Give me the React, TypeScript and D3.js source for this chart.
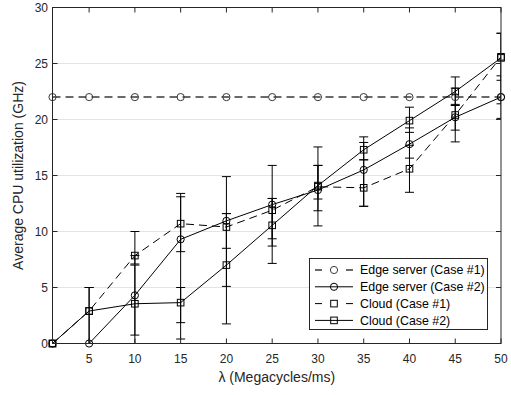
import { useEffect, useRef } from 'react';
import * as d3 from 'd3';

// lambda values (Megacycles/ms)
const lambda = [1, 5, 10, 15, 20, 25, 30, 35, 40, 45, 50];

// average CPU utilization (GHz)
const edgeCase1 = [22, 22, 22, 22, 22, 22, 22, 22, 22, 22, 22];
const edgeCase2 = [0, 0, 4.3, 9.3, 10.95, 12.4, 13.7, 15.5, 17.8, 20.2, 22.0];
const cloudCase1 = [0, 2.9, 7.85, 10.7, 10.4, 11.9, 14.0, 13.9, 15.6, 20.4, 25.6];
const cloudCase2 = [0, 2.9, 3.55, 3.65, 7.0, 10.55, 14.1, 17.3, 19.9, 22.5, 25.5];

// error bar ends (low / high)
const edgeCase2Lo = [0, 0, 0.75, 0.4, 5.1, 8.7, 11.85, 12.25, 16.55, 19.05, 20.1];
const edgeCase2Hi = [0, 0, 7.85, 13.4, 14.9, 15.9, 15.9, 18.45, 19.25, 21.35, 23.9];
const cloudCase1Lo = [0, 0, 7.1, 8.2, 8.5, 9.35, 12.9, 12.25, 13.5, 18.0, 23.5];
const cloudCase1Hi = [0, 5.0, 10.0, 13.1, 11.6, 12.95, 15.9, 16.4, 17.7, 22.8, 27.7];
const cloudCase2Lo = [0, 0, 0, 1.86, 1.75, 7.15, 10.5, 16.4, 18.85, 21.25, 21.4];
const cloudCase2Hi = [0, 5.0, 7.0, 5.0, 11.6, 12.95, 17.55, 17.95, 21.1, 23.8, 27.7];

const xTicks = [5, 10, 15, 20, 25, 30, 35, 40, 45, 50];
const yTicks = [0, 5, 10, 15, 20, 25, 30];

const legendLabels = [
  'Edge server (Case #1)',
  'Edge server (Case #2)',
  'Cloud (Case #1)',
  'Cloud (Case #2)',
];

const FONT = '"Liberation Sans", Arial, Helvetica, sans-serif';

const App = () => {
  const chartRef = useRef<SVGSVGElement | null>(null);

  useEffect(() => {
    if (!chartRef.current) return;
    const svg = d3.select(chartRef.current);
    svg.selectAll('*').remove();

    const left = 52.5, right = 501, top = 7.5, bottom = 343.5;
    const x = d3.scaleLinear().domain([1, 50]).range([left, right]);
    const y = d3.scaleLinear().domain([0, 30]).range([bottom, top]);

    svg.append('defs').append('clipPath').attr('id', 'plot-clip')
      .append('rect')
      .attr('x', left).attr('y', top)
      .attr('width', right - left).attr('height', bottom - top);

    svg.append('rect')
      .attr('x', left).attr('y', top)
      .attr('width', right - left).attr('height', bottom - top)
      .attr('fill', '#fff');

    // horizontal grid
    svg.append('g')
      .selectAll('line')
      .data(yTicks.filter(t => t > 0 && t < 30))
      .enter().append('line')
      .attr('x1', left).attr('x2', right)
      .attr('y1', d => y(d)).attr('y2', d => y(d))
      .attr('stroke', '#e3e3e3')
      .attr('stroke-width', 1);

    const plot = svg.append('g').attr('clip-path', 'url(#plot-clip)');

    const series = [
      { values: edgeCase1, dash: '8,5', color: '#3a3a3a', width: 1.5, marker: 'circle', lo: null, hi: null },
      { values: edgeCase2, dash: null, color: '#000', width: 1, marker: 'circle', lo: edgeCase2Lo, hi: edgeCase2Hi },
      { values: cloudCase1, dash: '8,5', color: '#000', width: 1, marker: 'square', lo: cloudCase1Lo, hi: cloudCase1Hi },
      { values: cloudCase2, dash: null, color: '#000', width: 1, marker: 'square', lo: cloudCase2Lo, hi: cloudCase2Hi },
    ];

    const line = d3.line<number>()
      .x((_, i) => x(lambda[i]))
      .y(d => y(d));

    const drawMarker = (g: any, kind: string, cx: number, cy: number, color: string) => {
      if (kind === 'circle') {
        g.append('circle')
          .attr('cx', cx).attr('cy', cy).attr('r', 3.6)
          .attr('fill', 'none').attr('stroke', color).attr('stroke-width', 1);
      } else {
        g.append('rect')
          .attr('x', cx - 3.3).attr('y', cy - 3.3)
          .attr('width', 6.6).attr('height', 6.6)
          .attr('fill', 'none').attr('stroke', color).attr('stroke-width', 1);
      }
    };

    series.forEach(s => {
      // error bars
      if (s.lo && s.hi) {
        const eb = plot.append('g').attr('stroke', '#000').attr('stroke-width', 1);
        lambda.forEach((lx, i) => {
          const lo = s.lo![i], hi = s.hi![i];
          if (hi - lo <= 0) return;
          const px = x(lx);
          eb.append('line')
            .attr('x1', px).attr('x2', px)
            .attr('y1', y(lo)).attr('y2', y(hi));
          [lo, hi].forEach(v => {
            eb.append('line')
              .attr('x1', px - 4.5).attr('x2', px + 4.5)
              .attr('y1', y(v)).attr('y2', y(v));
          });
        });
      }

      plot.append('path')
        .datum(s.values)
        .attr('d', line)
        .attr('fill', 'none')
        .attr('stroke', s.color)
        .attr('stroke-width', s.width)
        .attr('stroke-dasharray', s.dash);

      const mg = svg.append('g');
      s.values.forEach((v, i) => drawMarker(mg, s.marker, x(lambda[i]), y(v), s.color));
    });

    // axes box and ticks
    const axisColor = '#262626';
    svg.append('rect')
      .attr('x', left).attr('y', top)
      .attr('width', right - left).attr('height', bottom - top)
      .attr('fill', 'none')
      .attr('stroke', axisColor)
      .attr('stroke-width', 1);

    const tickLen = 5;
    const tg = svg.append('g').attr('stroke', axisColor).attr('stroke-width', 1);
    xTicks.forEach(t => {
      tg.append('line').attr('x1', x(t)).attr('x2', x(t)).attr('y1', bottom).attr('y2', bottom - tickLen);
      tg.append('line').attr('x1', x(t)).attr('x2', x(t)).attr('y1', top).attr('y2', top + tickLen);
    });
    yTicks.forEach(t => {
      tg.append('line').attr('x1', left).attr('x2', left + tickLen).attr('y1', y(t)).attr('y2', y(t));
      tg.append('line').attr('x1', right).attr('x2', right - tickLen).attr('y1', y(t)).attr('y2', y(t));
    });

    // tick labels
    svg.append('g')
      .selectAll('text')
      .data(xTicks)
      .enter().append('text')
      .attr('x', d => x(d))
      .attr('y', bottom + 19)
      .attr('text-anchor', 'middle')
      .attr('font-family', FONT)
      .attr('font-size', 12)
      .attr('fill', axisColor)
      .text(d => d);

    svg.append('g')
      .selectAll('text')
      .data(yTicks)
      .enter().append('text')
      .attr('x', left - 4.5)
      .attr('y', d => y(d))
      .attr('dy', '0.35em')
      .attr('text-anchor', 'end')
      .attr('font-family', FONT)
      .attr('font-size', 12)
      .attr('fill', axisColor)
      .text(d => d);

    // axis labels
    svg.append('text')
      .attr('x', (left + right) / 2)
      .attr('y', 382)
      .attr('text-anchor', 'middle')
      .attr('font-family', FONT)
      .attr('font-size', 14)
      .attr('fill', axisColor)
      .text('\u03bb (Megacycles/ms)');

    svg.append('text')
      .attr('transform', `translate(23,${(top + bottom) / 2}) rotate(-90)`)
      .attr('text-anchor', 'middle')
      .attr('font-family', FONT)
      .attr('font-size', 14)
      .attr('fill', axisColor)
      .text('Average CPU utilization (GHz)');

    // legend
    const lg = svg.append('g');
    lg.append('rect')
      .attr('x', 309.5).attr('y', 258.5)
      .attr('width', 178).attr('height', 71)
      .attr('fill', '#fff')
      .attr('stroke', axisColor)
      .attr('stroke-width', 1);

    series.forEach((s, i) => {
      const ly = 270 + i * 16.8;
      lg.append('line')
        .attr('x1', 315).attr('x2', 353)
        .attr('y1', ly).attr('y2', ly)
        .attr('stroke', s.color)
        .attr('stroke-width', s.width)
        .attr('stroke-dasharray', s.dash ? '7,24' : null);
      drawMarker(lg, s.marker, 334, ly, s.color);
      lg.append('text')
        .attr('x', 360)
        .attr('y', ly)
        .attr('dy', '0.35em')
        .attr('font-family', FONT)
        .attr('font-size', 12.4)
        .attr('fill', '#000')
        .text(legendLabels[i]);
    });
  }, []);

  return (
    <svg
      ref={chartRef}
      width={511}
      height={395}
      style={{ position: 'absolute', left: 0, top: 0, background: '#fff' }}
    ></svg>
  );
};

export default App;
